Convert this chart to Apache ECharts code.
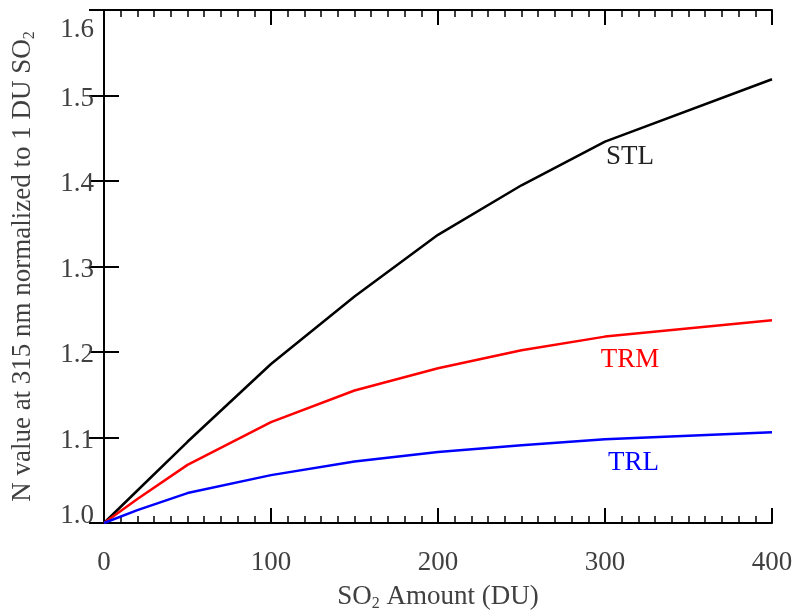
<!DOCTYPE html>
<html><head><meta charset="utf-8">
<script src="https://cdn.jsdelivr.net/npm/echarts@6/dist/echarts.min.js"></script>
<style>html,body{margin:0;padding:0;background:#fff}#c{width:794px;height:614px}</style>
</head><body><div id="c"></div>
<script>
const xValues = [0, 20, 50, 100, 150, 200, 250, 300, 400];
const stl = [1.0, 1.038, 1.095, 1.186, 1.265, 1.337, 1.395, 1.446, 1.519];
const trm = [1.0, 1.028, 1.068, 1.118, 1.155, 1.181, 1.202, 1.218, 1.237];
const trl = [1.0, 1.015, 1.035, 1.056, 1.072, 1.083, 1.091, 1.098, 1.106];
const seriesNames = ['STL', 'TRM', 'TRL'];
const labelPos = [[315, 1.428], [315, 1.191], [317, 1.070]];

const font = '"Liberation Serif", "DejaVu Serif", serif';
const colors = ['#000000', '#ff0000', '#0000ff'];
const textColors = ['#222222', '#ff0000', '#0000ff'];
const datasets = [stl, trm, trl];

const chart = echarts.init(document.getElementById('c'));
const axisLine = {show: true, lineStyle: {color: '#000', width: 2}};
const baseX = {
  type: 'value', min: 0, max: 400, interval: 100,
  axisLine, splitLine: {show: false},
  axisTick: {inside: true, length: 15, lineStyle: {color: '#000', width: 2}},
  minorTick: {show: true, splitNumber: 10, length: 7, lineStyle: {color: '#000', width: 1.5}},
};
const baseY = {
  type: 'value', min: 1.0, max: 1.6, interval: 0.1,
  axisLine, splitLine: {show: false},
  axisTick: {inside: true, length: 15, lineStyle: {color: '#000', width: 2}},
};
const subStyle = {fontFamily: font, fontSize: 16, color: '#404040', padding: [14, 0, 0, 0]};
chart.setOption({
  animation: false,
  grid: {left: 104, right: 22, top: 10, bottom: 91, containLabel: false, outerBoundsMode: 'none'},
  xAxis: [
    Object.assign({}, baseX, {
      position: 'bottom',
      axisLabel: {fontFamily: font, fontSize: 27, color: '#404040', margin: 26},
      name: 'SO{sub|2} Amount (DU)', nameLocation: 'middle', nameGap: 59,
      nameTextStyle: {fontFamily: font, fontSize: 27, color: '#404040', rich: {sub: subStyle}}
    }),
    Object.assign({}, baseX, {position: 'top', axisLabel: {show: false}})
  ],
  yAxis: [
    Object.assign({}, baseY, {
      position: 'left',
      axisLabel: {fontFamily: font, fontSize: 27, color: '#404040', margin: 10,
        padding: [6, 0, 0, 0],
        verticalAlignMaxLabel: 'top', verticalAlignMinLabel: 'bottom',
        formatter: v => v === 1 ? '{m|1.0}' : v.toFixed(1),
        rich: {m: {fontFamily: font, fontSize: 27, color: '#404040', lineHeight: 14}}},
      name: 'N value at 315 nm normalized to 1 DU SO{sub|2}', nameLocation: 'middle', nameGap: 66,
      nameTextStyle: {fontFamily: font, fontSize: 27, color: '#404040', rich: {sub: subStyle}}
    }),
    Object.assign({}, baseY, {position: 'right', axisLabel: {show: false}})
  ],
  series: datasets.map((d, i) => ({
    type: 'line', name: seriesNames[i],
    data: xValues.map((x, j) => [x, d[j]]),
    showSymbol: false, symbol: 'none',
    lineStyle: {color: colors[i], width: 2.5},
    markPoint: {
      symbol: 'circle', symbolSize: 0,
      data: [{coord: labelPos[i], value: seriesNames[i]}],
      label: {show: true, position: 'inside', formatter: seriesNames[i],
        fontFamily: font, fontSize: 27, color: textColors[i]}
    }
  }))
});
</script></body></html>
